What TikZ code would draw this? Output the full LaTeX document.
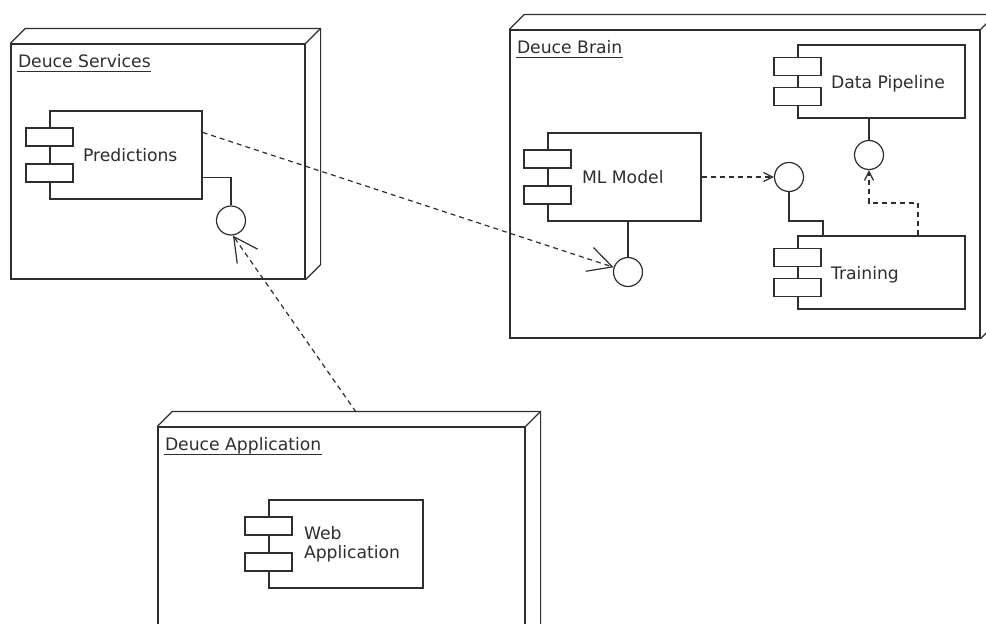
\documentclass[tikz,border=0pt]{standalone}
\usepackage{fontspec}
\setmainfont{DejaVu Sans}
\usetikzlibrary{arrows.meta}
\definecolor{ink}{HTML}{2E2E2E}

\begin{document}
\begin{tikzpicture}[x=1pt, y=-1pt,
    line width=1.2pt,
    face/.style={draw=ink, fill=white, rectangle, inner sep=0pt},
    comp/.style={face},
    port/.style={face, minimum width=47pt, minimum height=18pt},
    iface/.style={draw=ink, fill=white, circle, minimum size=29pt, inner sep=0pt},
    txt/.style={font=\fontsize{17.2}{19.5}\selectfont, text=ink, inner sep=0pt},
    wire/.style={draw=ink},
    dep/.style={draw=ink, dash pattern=on 5pt off 4pt},
    bigtip/.style={-{Straight Barb[length=24pt, width=25pt]}},
    smalltip/.style={-{Straight Barb[length=9pt, width=9pt]}},
  ]
  \clip (0,0) rectangle (986,624);
  \fill[white] (0,0) rectangle (986,624);

  % ---------- deployment nodes (3D boxes) ----------
  \node[face, minimum width=294pt, minimum height=235pt] (svc) at (158,161.5) {};
  \node[face, minimum width=470pt, minimum height=308pt] (brain) at (745,184) {};
  \node[face, minimum width=367pt, minimum height=273pt] (app) at (341.5,563.5) {};
  \foreach \n in {svc, brain, app} {
    \draw[ink] (\n.north west) -- ++(15,-15) -- ([shift={(15,-15)}]\n.north east)
      -- ([shift={(15,-15)}]\n.south east) -- (\n.south east);
    \draw[ink] (\n.north east) -- ++(15,-15);
  }

  % node titles, underlined
  \node[txt, anchor=base west] (svct) at ([shift={(7,24.5)}]svc.north west) {Deuce Services};
  \node[txt, anchor=base west] (braint) at ([shift={(7,24.5)}]brain.north west) {Deuce Brain};
  \node[txt, anchor=base west] (appt) at ([shift={(7,24.5)}]app.north west) {Deuce Application};
  \foreach \t in {svct, braint, appt}
    \draw[ink, line width=1pt] ([yshift=-3.5pt]\t.base west) -- ([yshift=-3.5pt]\t.base east);

  % ---------- components ----------
  % Predictions
  \node[comp, minimum width=152pt, minimum height=88pt] (pred) at (126,155) {};
  \node[port] (pred-a) at ([yshift=18pt]pred.west) {};
  \node[port] (pred-b) at ([yshift=-18pt]pred.west) {};
  \node[txt, anchor=base west] at ([shift={(33,6.5)}]pred.west) {Predictions};

  % ML Model
  \node[comp, minimum width=153pt, minimum height=88pt] (ml) at (624.5,177) {};
  \node[port] (ml-a) at ([yshift=18pt]ml.west) {};
  \node[port] (ml-b) at ([yshift=-18pt]ml.west) {};
  \node[txt, anchor=base west] at ([shift={(34,6.5)}]ml.west) {ML Model};

  % Data Pipeline
  \node[comp, minimum width=167pt, minimum height=73pt] (dp) at (881.5,81.5) {};
  \node[port] (dp-a) at ([yshift=15pt]dp.west) {};
  \node[port] (dp-b) at ([yshift=-15pt]dp.west) {};
  \node[txt, anchor=base west] at ([shift={(33,6.5)}]dp.west) {Data Pipeline};

  % Training
  \node[comp, minimum width=167pt, minimum height=73pt] (train) at (881.5,272.5) {};
  \node[port] (train-a) at ([yshift=15pt]train.west) {};
  \node[port] (train-b) at ([yshift=-15pt]train.west) {};
  \node[txt, anchor=base west] at ([shift={(33,6.5)}]train.west) {Training};

  % Web Application
  \node[comp, minimum width=154pt, minimum height=88pt] (web) at (346,544) {};
  \node[port] (web-a) at ([yshift=18pt]web.west) {};
  \node[port] (web-b) at ([yshift=-18pt]web.west) {};
  \node[txt, anchor=west, align=left] at ([xshift=35pt]web.west) {Web\\Application};

  % ---------- provided interfaces ----------
  \node[iface] (predi) at (231,220.5) {};
  \node[iface] (mli) at (628,272) {};
  \node[iface] (traini) at (789,177) {};
  \node[iface] (dpi) at (869,155) {};

  \coordinate (trbend) at (789,221);
  \coordinate (trdrop) at (823,221);
  \coordinate (dprise) at (918,203);
  \coordinate (appin) at (356,412);

  \draw[wire] ([yshift=22pt]pred.south east) -| (predi.north);
  \draw[wire] (mli.north) -- (mli.north |- ml.south);
  \draw[wire] (dpi.north) -- (dpi.north |- dp.south);
  \draw[wire] (traini.south) -- (trbend) -- (trdrop) -- (trdrop |- train.north);

  % ---------- dependencies ----------
  \draw[dep, bigtip] ([yshift=-22pt]pred.north east) -- (mli);
  \draw[dep, bigtip] (appin) -- ([xshift=2pt]predi.south);
  \draw[dep, smalltip] (ml.east) -- (traini.west);
  \draw[dep, smalltip] (dprise |- train.north) -- (dprise) -| (dpi.south);
\end{tikzpicture}
\end{document}
